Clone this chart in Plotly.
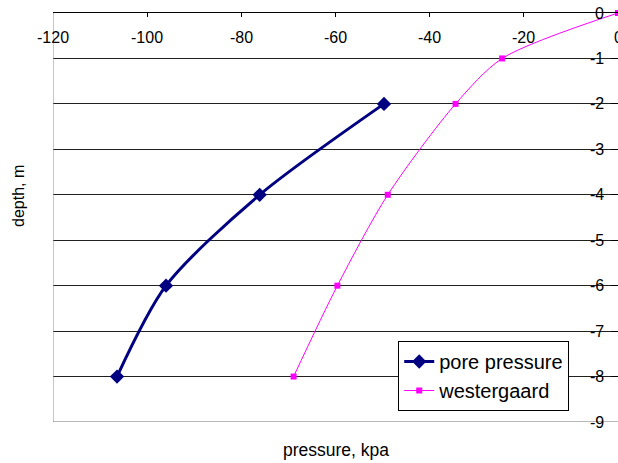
import plotly.graph_objects as go

# depth below surface (m, negative downward) and pressure (kPa)
pore_depth = [-2, -4, -6, -8]
pore_pressure = [-49.7, -76.1, -96.0, -106.4]

west_depth = [0, -1, -2, -4, -6, -8]
west_pressure = [0.0, -24.6, -34.5, -48.9, -59.6, -68.9]

x_ticks = [-120, -100, -80, -60, -40, -20, 0]
y_ticks = [0, -1, -2, -3, -4, -5, -6, -7, -8, -9]

FONT = "Liberation Sans, Arial, sans-serif"

fig = go.Figure()
fig.add_trace(go.Scatter(
    x=pore_pressure, y=pore_depth, name="pore pressure",
    mode="lines+markers",
    line=dict(color="#000080", width=3, shape="spline", smoothing=0.8),
    marker=dict(symbol="diamond", size=11, color="#000080"),
    cliponaxis=False,
))
fig.add_trace(go.Scatter(
    x=west_pressure, y=west_depth, name="westergaard",
    mode="lines+markers",
    line=dict(color="#FF00FF", width=1, shape="spline", smoothing=0.8),
    marker=dict(symbol="square", size=6, color="#FF00FF"),
    cliponaxis=False,
))

# tick labels sit inside the plot next to the axes that cross at the origin
annotations = []
for v in x_ticks:
    annotations.append(dict(
        text=str(v), xref="x", yref="paper", x=v, y=0.941,
        xanchor="center", yanchor="middle", showarrow=False,
        font=dict(family=FONT, size=16, color="black")))
for v in y_ticks:
    annotations.append(dict(
        text=str(v), xref="x", yref="y", x=0, y=v, xshift=-12,
        xanchor="right", yanchor="middle", showarrow=False,
        font=dict(family=FONT, size=16, color="black")))
annotations += [
    dict(text="pressure, kpa", xref="paper", yref="paper",
         x=0.5, y=-0.068, xanchor="center", yanchor="middle",
         showarrow=False, font=dict(family=FONT, size=17.5, color="black")),
    dict(text="depth, m", xref="paper", yref="paper",
         x=-0.060, y=0.553, xanchor="center", yanchor="middle",
         textangle=-90, showarrow=False,
         font=dict(family=FONT, size=16, color="black")),
]

fig.update_layout(
    width=618, height=463,
    margin=dict(l=53, r=0, t=13, b=41),
    paper_bgcolor="white", plot_bgcolor="white",
    font=dict(family=FONT, size=16, color="black"),
    showlegend=True,
    legend=dict(
        x=0.611, y=0.198, xanchor="left", yanchor="top",
        bgcolor="white", bordercolor="black", borderwidth=1,
        font=dict(family=FONT, size=20, color="black"),
        tracegroupgap=0,
    ),
    xaxis=dict(
        range=[-120, 0], side="top",
        tickmode="array", tickvals=x_ticks, showticklabels=False,
        ticks="inside", ticklen=4, tickcolor="black",
        showline=True, linecolor="black", linewidth=1,
        showgrid=False, zeroline=False,
    ),
    yaxis=dict(
        range=[-9, 0], side="right",
        tickmode="array", tickvals=y_ticks, showticklabels=False,
        ticks="inside", ticklen=7, tickcolor="black",
        showline=False,
        showgrid=True, gridcolor="#202020", gridwidth=1,
        zeroline=False,
    ),
    shapes=[
        dict(type="line", xref="x", yref="paper", x0=-120, x1=-120,
             y0=0, y1=1, line=dict(color="#909090", width=1)),
        dict(type="line", xref="x", yref="y", x0=-120, x1=0,
             y0=-9, y1=-9, line=dict(color="#707070", width=1)),
    ],
    annotations=annotations,
)

fig.write_html("out.html")
